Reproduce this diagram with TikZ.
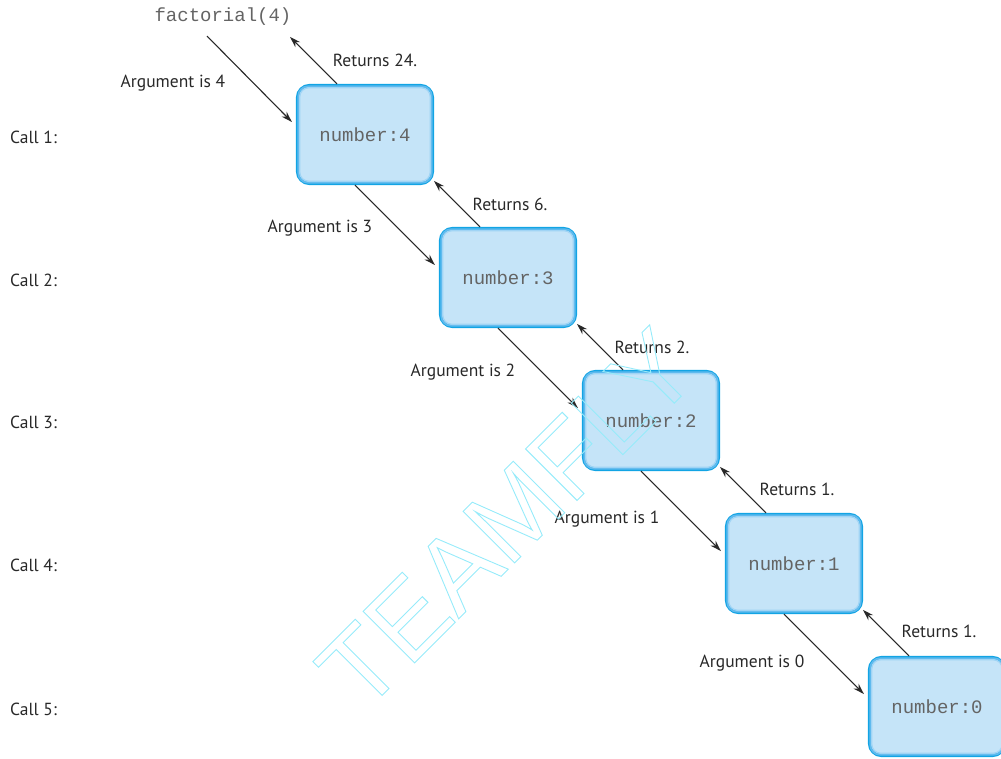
\documentclass[tikz,border=0pt]{standalone}
\usepackage{fontspec}
\setmainfont{PT Sans}
\newfontfamily\mono{Liberation Mono}
\newfontfamily\wmfont{Liberation Sans}
\usetikzlibrary{calc,arrows.meta}
\definecolor{boxfill}{RGB}{197,228,248}
\definecolor{boxedge}{RGB}{18,164,228}
\definecolor{boxglowa}{RGB}{95,186,238}
\definecolor{boxglowb}{RGB}{160,212,245}
\definecolor{ink}{RGB}{40,40,40}
\definecolor{monoink}{RGB}{100,100,100}
\definecolor{wmcolor}{RGB}{150,235,250}
\newcommand{\outlinetext}[1]{{\color{wmcolor}\special{pdf:literal direct 1 Tr 0.9 w}#1\special{pdf:literal direct 0 Tr}}}
\tikzset{
  callbox/.style={draw=boxedge, line width=3.2pt, fill=boxfill, rounded corners=12pt,
    minimum width=135pt, minimum height=98pt, inner sep=0pt},
  monotext/.style={font=\mono\fontsize{19}{22}\selectfont, text=monoink, inner sep=0pt},
  lbl/.style={font=\fontsize{17.5}{20}\selectfont, text=ink, inner sep=0pt},
  calllbl/.style={lbl, anchor=west},
  conn/.style={draw=ink, line width=1.1pt, -{Stealth[length=11pt,width=7pt]}},
}
\begin{document}
\begin{tikzpicture}[x=1pt,y=-1pt]
\useasboundingbox (0,0) rectangle (1001,758);
% boxes
\foreach \i/\n in {1/4,2/3,3/2,4/1,5/0}{
  \node[callbox] (b\i) at ({365+143*(\i-1)},{134.5+143*(\i-1)}) {};
  \draw[boxglowa, line width=1.6pt, rounded corners=10pt]
    ($(b\i.south west)+(2.3,-2.3)$) rectangle ($(b\i.north east)+(-2.3,2.3)$);
  \draw[boxglowb, line width=1.4pt, rounded corners=9pt]
    ($(b\i.south west)+(3.8,-3.8)$) rectangle ($(b\i.north east)+(-3.8,3.8)$);
  \node[monotext] (t\i) at (b\i.center) {number:\n};
}
\node[monotext] (fact) at (223,17) {factorial(4)};
% call labels
\node[calllbl] (c1) at (10,137) {Call 1:};
\node[calllbl] (c2) at (10,280) {Call 2:};
\node[calllbl] (c3) at (10,422) {Call 3:};
\node[calllbl] (c4) at (10,565) {Call 4:};
\node[calllbl] (c5) at (10,709) {Call 5:};
% arrows
\draw[conn] ($(fact.south)+(-16,10)$) -- ($(b1.west)+(-4,-12.5)$);
\foreach \i/\j in {1/2,2/3,3/4,4/5}{
  \draw[conn] ($(b\i.south)+(-10,0)$) -- ($(b\j.west)+(-4,-12.5)$);
  \draw[conn] ($(b\j.north)+(-28,0)$) -- ($(b\j.north)+(-74,-46)$);
}
\draw[conn] ($(b1.north)+(-28,0)$) -- ($(b1.north)+(-75,-47)$);
% labels
\node[lbl] (a4) at (173,83) {Argument is 4};
\node[lbl] (r24) at (375,60) {Returns 24.};
\node[lbl] (a3) at (320,228) {Argument is 3};
\node[lbl] (r6) at (510,204) {Returns 6.};
\node[lbl] (a2) at (463,372) {Argument is 2};
\node[lbl] (r2) at (652,347) {Returns 2.};
\node[lbl] (a1) at (607,519) {Argument is 1};
\node[lbl] (r1a) at (797,489) {Returns 1.};
\node[lbl] (a0) at (752,663) {Argument is 0};
\node[lbl] (r1b) at (939,631) {Returns 1.};
% watermark on top
\node[rotate=45, inner sep=0pt] (wm) at (507,519)
  {\wmfont\fontsize{106}{110}\selectfont\outlinetext{TEAMFLY}};
\end{tikzpicture}
\end{document}
